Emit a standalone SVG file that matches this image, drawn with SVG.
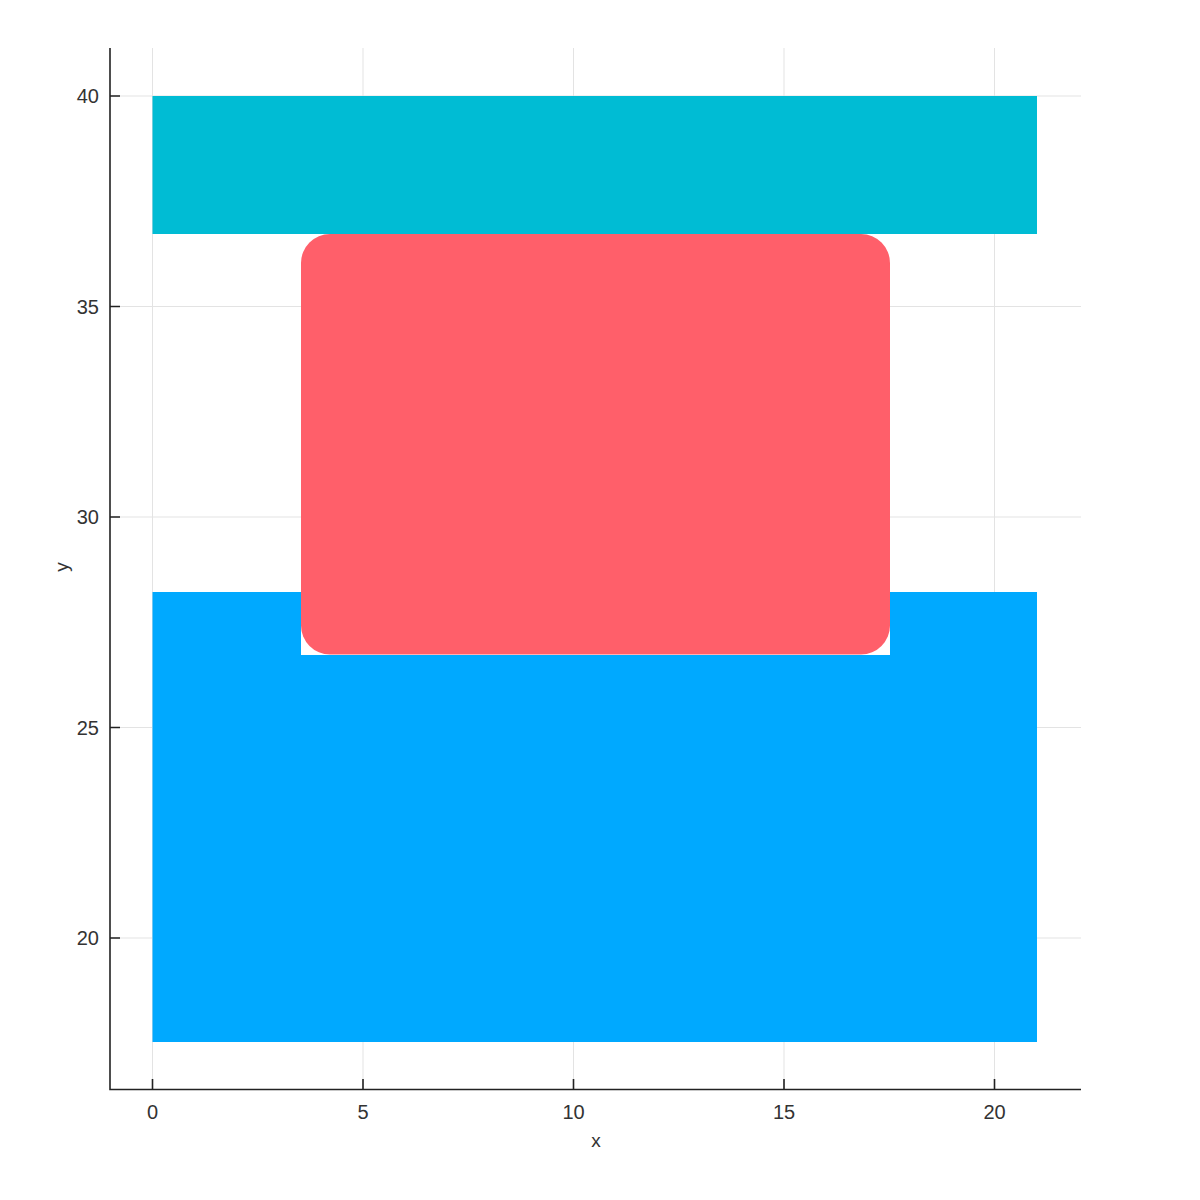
<svg xmlns="http://www.w3.org/2000/svg" width="1200" height="1200" viewBox="0 0 1200 1200">
<style>
.grid{stroke:#e3e3e3;stroke-width:1;fill:none}
.axis{stroke:#222;stroke-width:1.6;fill:none}
.tick{font-family:"Liberation Sans",Arial,sans-serif;font-size:20px;fill:#333}
.lab{font-family:"Liberation Sans",Arial,sans-serif;font-size:19px;fill:#333}
</style>
<rect width="1200" height="1200" fill="#fff"/>
<g id="grid">
<path class="grid" d="M152.5 48V1089M363 48V1089M573.5 48V1089M784 48V1089M994.5 48V1089"/>
<path class="grid" d="M110 96H1081M110 306.5H1081M110 517H1081M110 727.5H1081M110 938H1081"/>
</g>
<g id="shapes">
<rect id="top" x="152.5" y="96" width="884.5" height="138" fill="#00bcd4"/>
<rect id="bottom" x="152.5" y="592" width="884.5" height="450" fill="#00a9ff"/>
<rect id="mask" x="301" y="234" width="589" height="421" fill="#fff"/>
<rect id="middle" x="301" y="234" width="589" height="420.5" rx="29" ry="29" fill="#ff5f6a"/>
</g>
<g id="axes">
<path class="axis" d="M110 48V1089.5H1081"/>
<path class="axis" d="M152.5 1089V1079M363 1089V1079M573.5 1089V1079M784 1089V1079M994.5 1089V1079"/>
<path class="axis" d="M110 96H120M110 306.5H120M110 517H120M110 727.5H120M110 938H120"/>
</g>
<g id="labels">
<g class="tick" text-anchor="middle">
<text x="152.5" y="1119">0</text>
<text x="363" y="1119">5</text>
<text x="573.5" y="1119">10</text>
<text x="784" y="1119">15</text>
<text x="994.5" y="1119">20</text>
</g>
<g class="tick" text-anchor="end">
<text x="99" y="103">40</text>
<text x="99" y="313.5">35</text>
<text x="99" y="524">30</text>
<text x="99" y="734.5">25</text>
<text x="99" y="945">20</text>
</g>
<text class="lab" x="596" y="1147" text-anchor="middle">x</text>
<text class="lab" transform="translate(68 567) rotate(-90)" text-anchor="middle">y</text>
</g>
</svg>
